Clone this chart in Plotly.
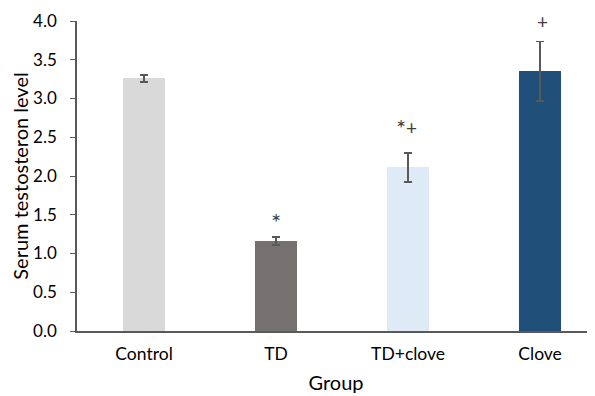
import plotly.graph_objects as go

categories = ["Control", "TD", "TD+clove", "Clove"]
values = [3.26, 1.16, 2.11, 3.35]
errors = [0.045, 0.05, 0.19, 0.385]
colors = ["#d9d9d9", "#767171", "#deebf7", "#1f4e79"]
y_ticks = [0.0, 0.5, 1.0, 1.5, 2.0, 2.5, 3.0, 3.5, 4.0]
tick_text = ["0.0", "0.5", "1.0", "1.5", "2.0", "2.5", "3.0", "3.5", "4.0"]
marks = [("TD", 1.46, "*"), ("TD+clove", 2.68, "*"), ("TD+clove", 2.62, "+"), ("Clove", 4.0, "+")]
mark_shift = {("TD", "*"): 0, ("TD+clove", "*"): -7, ("TD+clove", "+"): 3, ("Clove", "+"): 2}

FONT = "Lato, Open Sans, sans-serif"
fig = go.Figure()
fig.add_trace(go.Bar(
    x=categories, y=values, width=0.318,
    marker=dict(color=colors, line=dict(width=0)),
    error_y=dict(type="data", array=errors, visible=True, color="#595959", thickness=1.5, width=4),
    cliponaxis=False,
))
for cat, yv, sym in marks:
    star = sym == "*"
    fig.add_annotation(x=cat, y=yv, xref="x", yref="y", text=sym, showarrow=False,
                       xshift=mark_shift[(cat, sym)], yshift=-4 if star else 0,
                       font=dict(family=FONT, size=24 if star else 19, color="#404040"),
                       yanchor="middle")

# page body has an 8px default margin, so the figure is 8px smaller
fig.update_layout(
    width=587, height=388,
    margin=dict(l=69, r=0, t=13, b=65),
    paper_bgcolor="white", plot_bgcolor="white",
    showlegend=False,
    font=dict(family=FONT, size=17, color="#000000"),
    bargap=0,
)
fig.update_xaxes(
    range=[-0.508, 3.416], showline=True, linecolor="#595959", linewidth=1.5,
    ticks="", showgrid=False, tickfont=dict(size=17.5, color="#000"), automargin=False,
    ticklabelstandoff=6,
    title=dict(text="Group", font=dict(size=20, color="#000"), standoff=13),
)
fig.update_yaxes(
    range=[0, 4.0], tickvals=y_ticks, ticktext=tick_text, showline=True,
    linecolor="#595959", linewidth=1.5, ticks="outside", ticklen=5, tickcolor="#595959",
    showgrid=False, zeroline=False, tickfont=dict(size=17, color="#000"),
    ticklabelstandoff=10, automargin=False,
    title=dict(text="Serum testosteron level", font=dict(size=20, color="#000"), standoff=8),
)
fig.write_html("out.html")
